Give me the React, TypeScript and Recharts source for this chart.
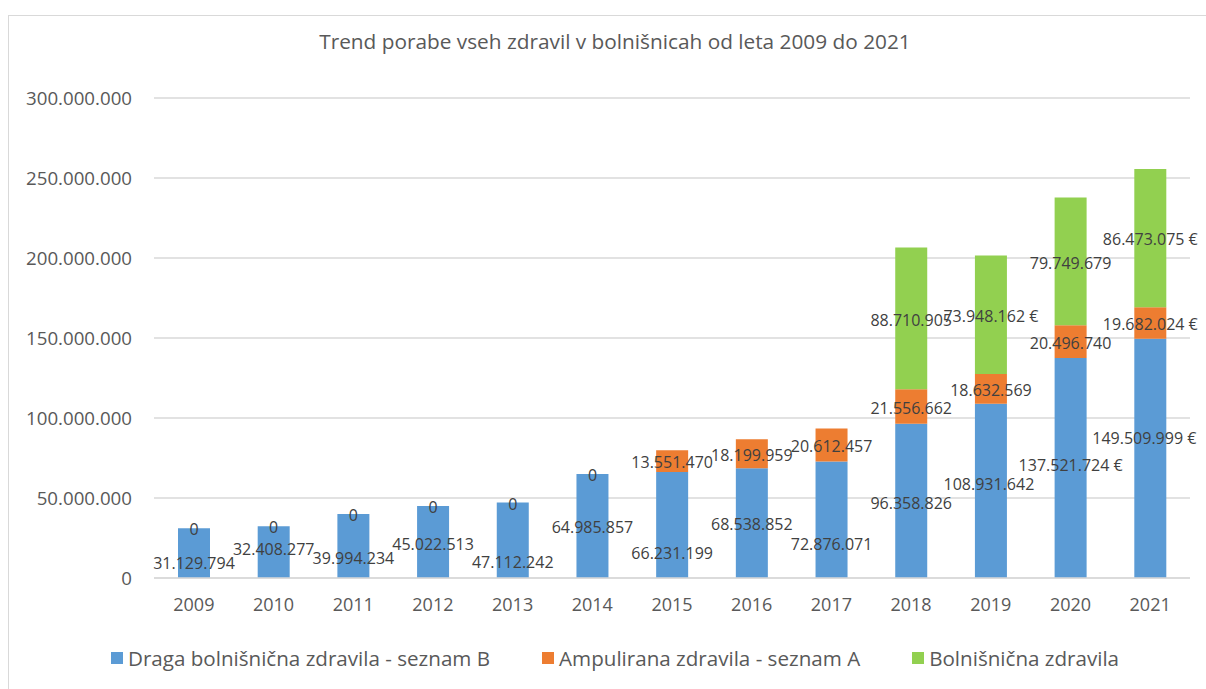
import React from 'react';
import { BarChart, Bar, XAxis, YAxis, CartesianGrid, LabelList } from 'recharts';

const years = ['2009', '2010', '2011', '2012', '2013', '2014', '2015', '2016', '2017', '2018', '2019', '2020', '2021'];

const dragaB = [31129794, 32408277, 39994234, 45022513, 47112242, 64985857, 66231199, 68538852, 72876071, 96358826, 108931642, 137521724, 149509999];
const ampuliranaA = [0, 0, 0, 0, 0, 0, 13551470, 18199959, 20612457, 21556662, 18632569, 20496740, 19682024];
const bolnisnicna: (number | null)[] = [null, null, null, null, null, null, null, null, null, 88710905, 73948162, 79749679, 86473075];

// which labels carry the euro sign in the original
const dragaEuro = [false, false, false, false, false, false, false, false, false, false, false, true, true];
const ampuliranaEuro = [false, false, false, false, false, false, false, false, false, false, false, false, true];
const bolnisnicnaEuro = [false, false, false, false, false, false, false, false, false, false, true, false, true];

const yTicks = [0, 50000000, 100000000, 150000000, 200000000, 250000000, 300000000];

const seriesNames = ['Draga bolnišnična zdravila - seznam B', 'Ampulirana zdravila - seznam A', 'Bolnišnična zdravila'];
const colors = ['#5B9BD5', '#ED7D31', '#92D050'];

// label nudges (px) relative to the segment centre, the blue ones were moved by hand
const dragaDy = [10, -3, 12, 2, 22, 1, 28, 1, 25, 2, -7, -3, -20];
const dragaDx = [0, 0, 0, 0, 0, 0, 0, 0, 0, 0, -2, 0, -6];

const data = years.map((year, i) => ({
  year,
  dragaB: dragaB[i],
  ampuliranaA: ampuliranaA[i],
  bolnisnicna: bolnisnicna[i] ?? 0,
}));

const fmt = (v: number) => String(v).replace(/\B(?=(\d{3})+(?!\d))/g, '.');

const FONT = '"Open Sans", sans-serif';

const LabelText = ({ x, y, children }: { x: number; y: number; children: React.ReactNode }) => (
  <text x={x} y={y} dy="0.36em" textAnchor="middle" fill="#404040" fontSize={16} fontFamily={FONT}>
    {children}
  </text>
);

// blue labels; the zero orange labels sit on top of the blue bars, so they are drawn here too
const dragaLabel = (props: any) => {
  const { x, y, width, height, index } = props;
  const cx = Number(x) + Number(width) / 2;
  const cy = Number(y) + Number(height) / 2;
  const v = dragaB[index];
  return (
    <g>
      <LabelText x={cx + dragaDx[index]} y={cy + dragaDy[index]}>
        {fmt(v) + (dragaEuro[index] ? ' €' : '')}
      </LabelText>
      {ampuliranaA[index] === 0 && (
        <LabelText x={cx} y={Number(y) + 1.5}>
          0
        </LabelText>
      )}
    </g>
  );
};

const stackLabel = (values: (number | null)[], euro: boolean[]) => (props: any) => {
  const { x, y, width, height, value } = props;
  const i = values.indexOf(Number(value));
  if (i < 0 || !value) return null;
  return (
    <LabelText x={Number(x) + Number(width) / 2} y={Number(y) + Number(height) / 2 + 1.5}>
      {fmt(Number(value)) + (euro[i] ? ' €' : '')}
    </LabelText>
  );
};

const LegendRow = () => (
  <div
    style={{
      position: 'absolute',
      top: 644,
      left: 0,
      width: 1230,
      display: 'flex',
      justifyContent: 'center',
      gap: 52,
      fontFamily: FONT,
      fontSize: 20.6,
      color: '#595959',
    }}
  >
    {seriesNames.map((name, i) => (
      <div key={name} style={{ display: 'flex', alignItems: 'center' }}>
        <span style={{ width: 12, height: 12, background: colors[i], marginRight: 5, display: 'inline-block' }} />
        <span>{name}</span>
      </div>
    ))}
  </div>
);

export default function App() {
  return (
    <div style={{ position: 'absolute', left: 0, top: 0, width: 1206, height: 689, background: '#fff', overflow: 'hidden' }}>
      <div
        style={{
          position: 'absolute',
          left: 8,
          top: 15,
          width: 1220,
          height: 700,
          border: '1px solid #d9d9d9',
          boxSizing: 'border-box',
        }}
      />
      <div
        style={{
          position: 'absolute',
          top: 27,
          left: 0,
          width: 1230,
          textAlign: 'center',
          fontFamily: FONT,
          fontSize: 20.8,
          color: '#595959',
        }}
      >
        Trend porabe vseh zdravil v bolnišnicah od leta 2009 do 2021
      </div>
      <div style={{ position: 'absolute', left: 0, top: 0 }}>
        <BarChart
          width={1206}
          height={689}
          data={data}
          margin={{ top: 98, right: 16, left: 0, bottom: 81 }}
          barSize={32}
        >
          <CartesianGrid vertical={false} stroke="#d9d9d9" strokeWidth={1.5} />
          <XAxis
            dataKey="year"
            height={30}
            axisLine={{ stroke: '#d9d9d9', strokeWidth: 1.5 }}
            tickLine={false}
            tickSize={0}
            tickMargin={20}
            tick={{ fill: '#595959', fontSize: 18, fontFamily: FONT }}
          />
          <YAxis
            width={154}
            domain={[0, 300000000]}
            ticks={yTicks}
            tickFormatter={fmt}
            axisLine={false}
            tickLine={false}
            tickSize={0}
            tickMargin={22}
            tick={{ fill: '#595959', fontSize: 18.7, fontFamily: FONT }}
          />
          <Bar dataKey="dragaB" stackId="a" fill={colors[0]} isAnimationActive={false}>
            <LabelList dataKey="dragaB" content={dragaLabel} />
          </Bar>
          <Bar dataKey="ampuliranaA" stackId="a" fill={colors[1]} isAnimationActive={false}>
            <LabelList dataKey="ampuliranaA" content={stackLabel(ampuliranaA, ampuliranaEuro)} />
          </Bar>
          <Bar dataKey="bolnisnicna" stackId="a" fill={colors[2]} isAnimationActive={false}>
            <LabelList dataKey="bolnisnicna" content={stackLabel(bolnisnicna, bolnisnicnaEuro)} />
          </Bar>
        </BarChart>
      </div>
      <LegendRow />
    </div>
  );
}
